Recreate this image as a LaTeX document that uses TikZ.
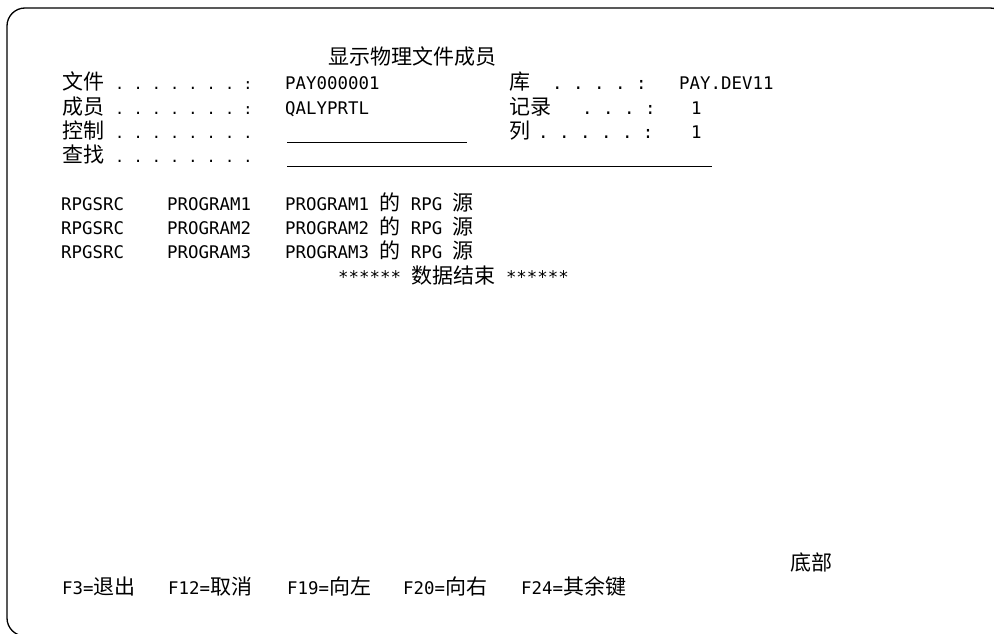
\documentclass[tikz,border=0pt]{standalone}
\usepackage{fontspec}
\setmonofont{DejaVu Sans Mono}
\newfontfamily\cjk{Noto Sans CJK SC}
\newcommand{\zh}[1]{{\cjk\fontsize{21}{24}\selectfont #1}}

\begin{document}
\begin{tikzpicture}[x=1pt, y=-1pt,
    txt/.style={anchor=base west, inner sep=0pt,
      font=\fontsize{17.4}{24}\selectfont\ttfamily\frenchspacing},
    leader/.style={txt, font=\fontsize{15.2}{24}\selectfont\ttfamily\frenchspacing},
    field/.style={line width=0.9pt}]
        \useasboundingbox (0,0) rectangle (994,634);
        \clip (0,0) rectangle (994,634);

        % Frame
        \draw[line width=1.3pt, rounded corners=18pt] (7,8) rectangle (1008,636);

        % Header
        \node[txt] (title) at (328,65) {\zh{显示物理文件成员}};

        \node[txt] (fileLbl) at (62,90) {\zh{文件}};
        \node[leader] (fileDots) at (115,90) {. . . . . . . :};
        \node[txt] (fileVal) at (285,90) {PAY000001};
        \node[txt] (libLbl) at (509,90) {\zh{库}};
        \node[txt] (libDots) at (552,90) {. . . . :};
        \node[txt] (libVal) at (679,90) {PAY.DEV11};

        \node[txt] (mbrLbl) at (62,114) {\zh{成员}};
        \node[leader] (mbrDots) at (115,114) {. . . . . . . :};
        \node[txt] (mbrVal) at (285,114) {QALYPRTL};
        \node[txt] (recLbl) at (509,114) {\zh{记录}};
        \node[txt] (recDots) at (582,114) {. . . :};
        \node[txt] (recVal) at (691,114) {1};

        \node[txt] (ctlLbl) at (62,138) {\zh{控制}};
        \node[leader] (ctlDots) at (115,138) {. . . . . . . .};
        \node[txt] (colLbl) at (509,138) {\zh{列}};
        \node[txt] (colDots) at (538,138) {. . . . . :};
        \node[txt] (colVal) at (691,138) {1};

        \node[txt] (fndLbl) at (62,162) {\zh{查找}};
        \node[leader] (fndDots) at (115,162) {. . . . . . . .};

        % Input fields
        \coordinate (ctlA) at (287,142);
        \coordinate (ctlB) at (467,142);
        \coordinate (fndA) at (287,166);
        \coordinate (fndB) at (712,166);
        \draw[field] (ctlA) -- (ctlB);
        \draw[field] (fndA) -- (fndB);

        % Records
        \node[txt] (src1) at (61,210) {RPGSRC};
        \node[txt] (mem1) at (167,210) {PROGRAM1};
        \node[txt] (desc1) at (285,210) {PROGRAM1 \zh{的} RPG \zh{源}};
        \node[txt] (src2) at (61,234) {RPGSRC};
        \node[txt] (mem2) at (167,234) {PROGRAM2};
        \node[txt] (desc2) at (285,234) {PROGRAM2 \zh{的} RPG \zh{源}};
        \node[txt] (src3) at (61,258) {RPGSRC};
        \node[txt] (mem3) at (167,258) {PROGRAM3};
        \node[txt] (desc3) at (285,258) {PROGRAM3 \zh{的} RPG \zh{源}};
        \node[txt] (endData) at (338,283) {****** \zh{数据结束} ******};

        % Footer
        \node[txt] (bottom) at (790,570) {\zh{底部}};
        \node[txt] (fk3) at (62,594) {F3=\zh{退出}};
        \node[txt] (fk12) at (168,594) {F12=\zh{取消}};
        \node[txt] (fk19) at (287,594) {F19=\zh{向左}};
        \node[txt] (fk20) at (403,594) {F20=\zh{向右}};
        \node[txt] (fk24) at (521,594) {F24=\zh{其余键}};
    \end{tikzpicture}
\end{document}
